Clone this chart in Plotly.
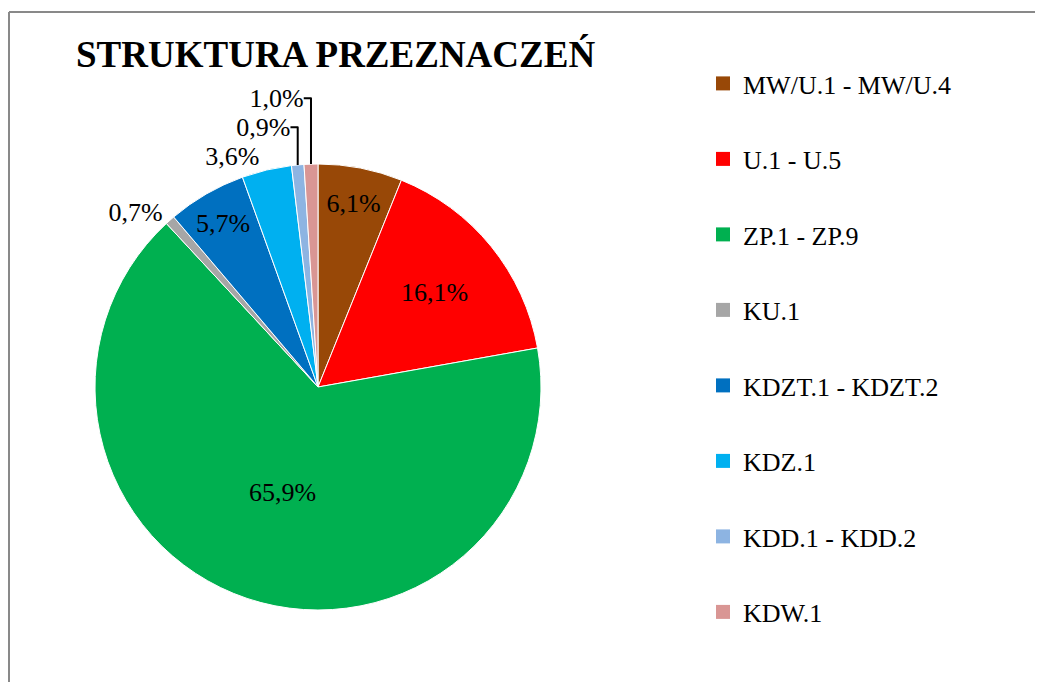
import plotly.graph_objects as go

categories = ["MW/U.1 - MW/U.4", "U.1 - U.5", "ZP.1 - ZP.9", "KU.1",
              "KDZT.1 - KDZT.2", "KDZ.1", "KDD.1 - KDD.2", "KDW.1"]
shares = [6.1, 16.1, 65.9, 0.7, 5.7, 3.6, 0.9, 1.0]
colors = ["#984807", "#FF0000", "#00B050", "#A6A6A6",
          "#0070C0", "#00B0F0", "#8DB4E2", "#D99694"]
label_positions = ["inside", "inside", "inside", "outside",
                   "inside", "outside", "outside", "outside"]
title_text = "STRUKTURA PRZEZNACZEŃ"

OFF = 8  # the page body adds an 8px margin; compensate in pixel positions
W, H = 1043 - OFF, 682 - OFF
FONT = "Liberation Serif"

fig = go.Figure()

fig.add_trace(go.Pie(
    labels=categories,
    values=shares,
    sort=False,
    direction="clockwise",
    rotation=0,
    marker=dict(colors=colors, line=dict(color="white", width=1)),
    texttemplate="%{value:.1f}%",
    textposition=label_positions,
    insidetextorientation="horizontal",
    textfont=dict(family=FONT, size=26, color="black"),
    outsidetextfont=dict(family=FONT, size=26, color="black"),
    insidetextfont=dict(family=FONT, size=26, color="black"),
    showlegend=False,
    hoverinfo="label+percent",
    domain=dict(x=[(95 - OFF) / W, (541 - OFF) / W],
                y=[1 - (610 - OFF) / H, 1 - (164 - OFF) / H]),
))

# legend entries (square markers) for each category
for i, (cat, col) in enumerate(zip(categories, colors)):
    fig.add_trace(go.Scatter(
        x=[None], y=[None], mode="markers", name=cat,
        legendgroup=f"g{i}",
        marker=dict(symbol="square", size=14, color=col),
        hoverinfo="skip",
    ))

fig.update_layout(
    width=W, height=H,
    margin=dict(l=0, r=0, t=0, b=0),
    paper_bgcolor="white",
    plot_bgcolor="white",
    separators=", ",
    xaxis=dict(visible=False),
    yaxis=dict(visible=False),
    title=dict(
        text=title_text,
        font=dict(family=FONT, size=37, color="black", weight="bold"),
        x=68 / W, xanchor="left", xref="paper",
        y=1 - 33 / H, yanchor="top", yref="paper",
    ),
    legend=dict(
        x=695 / W, xanchor="left",
        y=1 - 52 / H, yanchor="top",
        font=dict(family=FONT, size=26, color="black"),
        tracegroupgap=38.7,
        bgcolor="rgba(0,0,0,0)",
        itemclick=False, itemdoubleclick=False,
    ),
    shapes=[
        dict(type="line", xref="paper", yref="paper",
             x0=1 / W, x1=1.0, y0=1 - 4 / H, y1=1 - 4 / H,
             line=dict(color="#898989", width=2)),
        dict(type="line", xref="paper", yref="paper",
             x0=1 / W, x1=1 / W, y0=1 - 4 / H, y1=0,
             line=dict(color="#898989", width=2)),
    ],
)

fig.write_html("out.html", config={"displayModeBar": False})
